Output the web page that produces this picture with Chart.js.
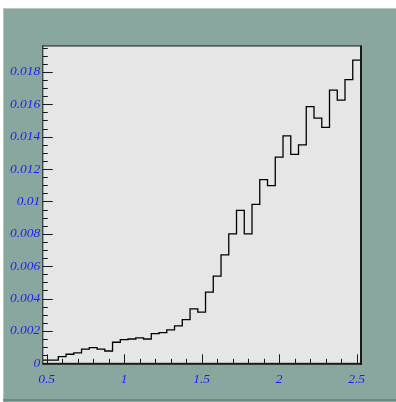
<!DOCTYPE html>
<html>
<head>
<meta charset="utf-8">
<script src="https://cdn.jsdelivr.net/npm/chart.js@4/dist/chart.umd.min.js"></script>
<style>
  html, body { margin: 0; padding: 0; background: #ffffff; }
  #c { display: block; }
</style>
</head>
<body>
<canvas id="c" width="396" height="402"></canvas>
<script>
// ---- data ----
const binCenters = [0.5, 0.55, 0.6, 0.65, 0.7, 0.75, 0.8, 0.85, 0.9, 0.95,
  1.0, 1.05, 1.1, 1.15, 1.2, 1.25, 1.3, 1.35, 1.4, 1.45,
  1.5, 1.55, 1.6, 1.65, 1.7, 1.75, 1.8, 1.85, 1.9, 1.95,
  2.0, 2.05, 2.1, 2.15, 2.2, 2.25, 2.3, 2.35, 2.4, 2.45, 2.5];
const binWidth = 0.05;
const binValues = [0.0002, 0.0002, 0.00041, 0.00056, 0.00064, 0.00088, 0.00097, 0.00088, 0.00076, 0.0013,
  0.00146, 0.0015, 0.00157, 0.0015, 0.00183, 0.0019, 0.00206, 0.00231, 0.0027, 0.00336,
  0.00316, 0.0044, 0.00539, 0.0067, 0.0080, 0.00945, 0.0080, 0.00982, 0.01135, 0.01098,
  0.01273, 0.01405, 0.01291, 0.01349, 0.01585, 0.01514, 0.01457, 0.01687, 0.01626, 0.01752,
  0.01873];
const xTickValues = [0.5, 1, 1.5, 2, 2.5];
const xTickLabels = ['0.5', '1', '1.5', '2', '2.5'];
const yTickValues = [0, 0.002, 0.004, 0.006, 0.008, 0.01, 0.012, 0.014, 0.016, 0.018];
const yTickLabels = ['0', '0.002', '0.004', '0.006', '0.008', '0.01', '0.012', '0.014', '0.016', '0.018'];
const xMinorStep = 0.1;
const yMinorStep = 0.0005;
const xRange = [0.475, 2.525];
const yRange = [0, 0.0196];

// build step points (left edge of each bin carries its value)
const points = binCenters.map((c, i) => ({ x: c - binWidth / 2, y: binValues[i] }));
points.push({ x: binCenters[binCenters.length - 1] + binWidth / 2, y: binValues[binValues.length - 1] });

const GREEN = '#8aa79f';
const PLOT_BG = '#e6e6e6';
const LABEL_BLUE = 'rgb(30,30,245)';
const LABEL_FONT = { family: '"Liberation Serif", "DejaVu Serif", serif', style: 'italic', size: 13.5 };

const rootStyle = {
  id: 'rootStyle',
  beforeDraw(chart) {
    const ctx = chart.ctx, W = chart.width, H = chart.height;
    const a = chart.chartArea;
    ctx.save();
    ctx.fillStyle = '#ffffff';
    ctx.fillRect(0, 0, W, H);
    ctx.fillStyle = GREEN;
    ctx.fillRect(3, 8, W - 3, H - 8);
    ctx.fillStyle = '#b3c6c0';
    ctx.fillRect(3, 8, W - 3, 1);
    ctx.fillRect(3, 8, 1, H - 8);
    ctx.fillStyle = '#6e8882';
    ctx.fillRect(3, 399, W - 3, 2);
    ctx.fillStyle = PLOT_BG;
    ctx.fillRect(a.left, a.top, a.right - a.left, a.bottom - a.top);
    ctx.restore();
  },
  afterDraw(chart) {
    const ctx = chart.ctx;
    const a = chart.chartArea;
    const xs = chart.scales.x, ys = chart.scales.y;
    ctx.save();
    ctx.strokeStyle = '#1a1a1a';
    ctx.lineWidth = 1;
    // x ticks
    const nx = Math.round((xTickValues[xTickValues.length - 1] - xTickValues[0]) / xMinorStep);
    for (let k = 0; k <= nx; k++) {
      const v = xTickValues[0] + k * xMinorStep;
      const px = Math.round(xs.getPixelForValue(v)) + 0.5;
      const major = xTickValues.some(t => Math.abs(t - v) < 1e-9);
      const len = major ? 9 : 4.5;
      ctx.beginPath();
      ctx.moveTo(px, a.bottom);
      ctx.lineTo(px, a.bottom - len);
      ctx.stroke();
    }
    // y ticks
    const ny = Math.floor(yRange[1] / yMinorStep + 1e-9);
    for (let k = 0; k <= ny; k++) {
      const v = k * yMinorStep;
      const py = Math.round(ys.getPixelForValue(v)) + 0.5;
      const major = yTickValues.some(t => Math.abs(t - v) < 1e-9);
      const len = major ? 10 : 5;
      ctx.beginPath();
      ctx.moveTo(a.left, py);
      ctx.lineTo(a.left + len, py);
      ctx.stroke();
    }
    // frame
    ctx.fillStyle = '#1a1a1a';
    ctx.fillRect(a.left - 0.5, a.top - 0.5, a.right - a.left + 1, 1);
    ctx.fillRect(a.left - 0.5, a.top - 0.5, 1, a.bottom - a.top + 1);
    ctx.fillRect(a.right - 0.5, a.top - 0.5, 2, a.bottom - a.top + 2);
    ctx.fillRect(a.left - 0.5, a.bottom - 0.5, a.right - a.left + 2, 2);
    ctx.restore();
  }
};

new Chart(document.getElementById('c'), {
  type: 'line',
  data: {
    datasets: [{
      data: points,
      stepped: true,
      borderColor: '#000000',
      borderWidth: 1.3,
      pointRadius: 0,
      fill: false,
      tension: 0
    }]
  },
  options: {
    responsive: false,
    animation: false,
    events: [],
    layout: { padding: { left: 0, top: 46, right: 35.5, bottom: 0 } },
    plugins: { legend: { display: false }, tooltip: { enabled: false } },
    scales: {
      x: {
        type: 'linear',
        min: xRange[0],
        max: xRange[1],
        afterBuildTicks(scale) { scale.ticks = xTickValues.map(v => ({ value: v })); },
        afterFit(scale) { scale.height = 38.7; },
        grid: { display: false, drawTicks: false },
        border: { display: false },
        ticks: {
          autoSkip: false,
          maxRotation: 0,
          padding: 8,
          color: LABEL_BLUE,
          font: LABEL_FONT,
          callback: (v, i) => xTickLabels[i]
        }
      },
      y: {
        type: 'linear',
        min: yRange[0],
        max: yRange[1],
        afterBuildTicks(scale) { scale.ticks = yTickValues.map(v => ({ value: v })); },
        afterFit(scale) { scale.width = 42.8; },
        grid: { display: false, drawTicks: false },
        border: { display: false },
        ticks: {
          autoSkip: false,
          padding: 2.5,
          color: LABEL_BLUE,
          font: LABEL_FONT,
          callback: (v, i) => yTickLabels[i]
        }
      }
    }
  },
  plugins: [rootStyle]
});
</script>
</body>
</html>
